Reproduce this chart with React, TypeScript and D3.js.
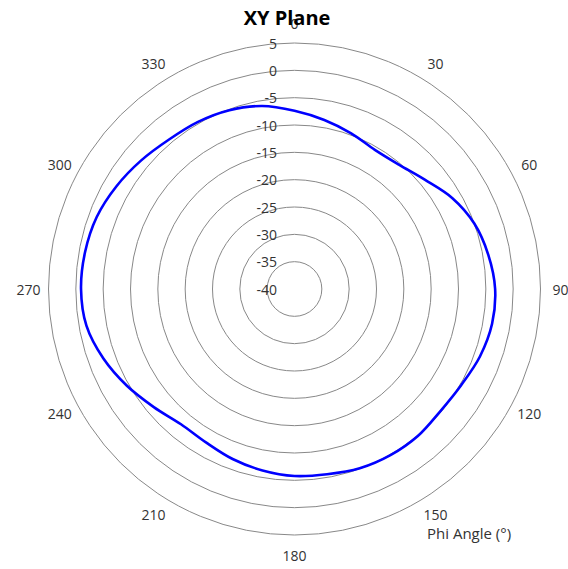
import React from "react";
import * as d3 from "d3";

const phiAngles: number[] = [0, 10, 20, 30, 40, 50, 60, 70, 80, 90, 100, 110, 120, 130, 140, 150, 160, 170, 180, 190, 200, 210, 220, 230, 240, 250, 260, 270, 280, 290, 300, 310, 320, 330, 340, 350];
const gainValues: number[] = [-7.4, -8.6, -9.7, -10.6, -10.3, -8.9, -6.7, -5.0, -4.0, -3.3, -3.3, -3.9, -4.8, -5.2, -4.9, -4.9, -5.1, -5.6, -5.8, -6.3, -6.9, -7.6, -7.7, -6.4, -4.6, -2.8, -1.35, -0.95, -1.1, -1.5, -2.4, -3.4, -4.3, -4.7, -5.2, -6.0];
const radialTicks: number[] = [-40, -35, -30, -25, -20, -15, -10, -5, 0, 5];
const angleTicks: number[] = [0, 30, 60, 90, 120, 150, 180, 210, 240, 270, 300, 330];
const titleText = "XY Plane";
const axisTitle = "Phi Angle (°)";

const W = 568;
const H = 569;
const cx = 294.5;
const cy = 289;
const R = 246;
const FONT = "'Open Sans', 'Liberation Sans', sans-serif";

export default function App() {
  const r = d3.scaleLinear().domain([-40, 5]).range([0, R]);
  const toRad = (deg: number) => (deg * Math.PI) / 180;
  const pts: [number, number][] = phiAngles.map((a, i) => [toRad(a), r(gainValues[i])]);
  const line = d3
    .lineRadial<[number, number]>()
    .angle((d) => d[0])
    .radius((d) => d[1])
    .curve(d3.curveCatmullRomClosed.alpha(0.5));
  const path = line(pts) || "";
  const labelR = 266;

  const shiftDeg = (a: number) => {
    const m = a % 180;
    if (m === 0 || m === 90) return 0;
    return m < 90 ? 2 : -2;
  };

  return (
    <svg
      width={W}
      height={H}
      viewBox={`0 0 ${W} ${H}`}
      style={{ position: "absolute", left: 0, top: 0, background: "#fff" }}
    >
      <rect x={0} y={0} width={W} height={H} fill="#fff" />
      <g transform={`translate(${cx},${cy})`}>
        {radialTicks
          .filter((t) => t > -40)
          .map((t) => (
            <circle key={t} r={r(t)} fill="none" stroke="#888" strokeWidth={1} />
          ))}
        {radialTicks.map((t) => (
          <text
            key={"l" + t}
            x={-17.5}
            y={-r(t)}
            textAnchor="end"
            dominantBaseline="central"
            fontFamily={FONT}
            fontSize={14}
            fill="#333"
          >
            {t}
          </text>
        ))}
        <path d={path} fill="none" stroke="#0000ff" strokeWidth={2.6} strokeLinejoin="round" />
        {angleTicks.map((a) => {
          const th = toRad(a + shiftDeg(a));
          return (
            <text
              key={"a" + a}
              x={labelR * Math.sin(th)}
              y={-labelR * Math.cos(th)}
              textAnchor="middle"
              dominantBaseline="central"
              fontFamily={FONT}
              fontSize={14}
              fill="#333"
            >
              {a}
            </text>
          );
        })}
      </g>
      <text
        x={287}
        y={17}
        textAnchor="middle"
        dominantBaseline="central"
        fontFamily={FONT}
        fontSize={20}
        fontWeight="bold"
        fill="#000"
      >
        {titleText}
      </text>
      <text x={427} y={533} dominantBaseline="central" fontFamily={FONT} fontSize={15} fill="#333">
        {axisTitle}
      </text>
    </svg>
  );
}
